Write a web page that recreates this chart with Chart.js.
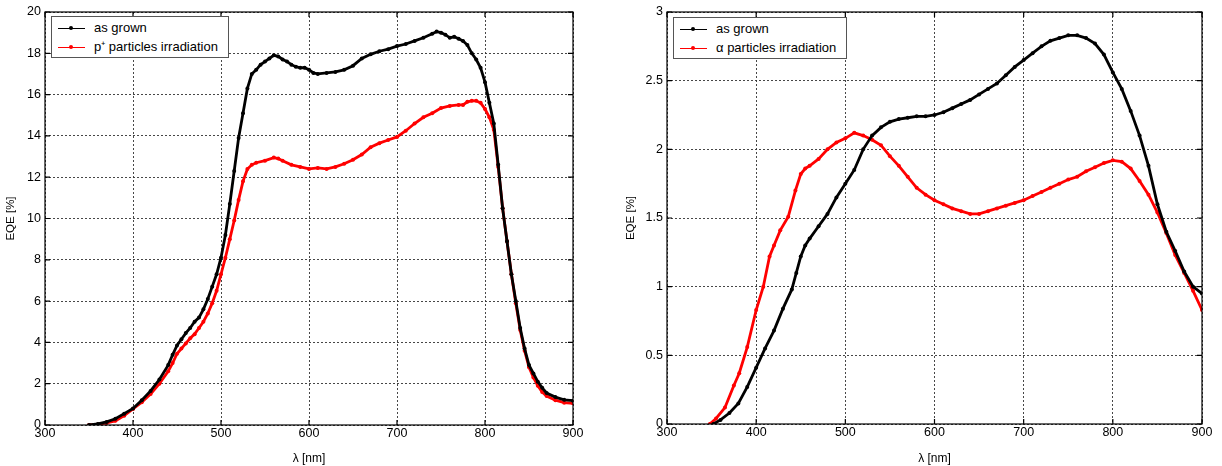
<!DOCTYPE html>
<html>
<head>
<meta charset="utf-8">
<script src="https://cdn.jsdelivr.net/npm/chart.js@4/dist/chart.umd.min.js"></script>
<style>
  html, body { margin: 0; padding: 0; background: #fff; }
  body { width: 1222px; height: 466px; position: relative; overflow: hidden; font-family: "Liberation Sans", Arial, sans-serif; }
  .wrap { position: absolute; top: 0; height: 466px; }
  .legend { position: absolute; background: #fff; border: 1px solid #555; font-size: 13px; color: #000; padding: 1px 10px 1px 6px; line-height: 19px; }
  .legend .row { white-space: nowrap; }
  .legend .smp { display: inline-block; position: relative; width: 27px; height: 0; border-top: 1.5px solid; vertical-align: middle; margin-right: 9px; }
  .legend .smp i { position: absolute; left: 11px; top: -3px; width: 4px; height: 4px; border-radius: 50%; }
</style>
</head>
<body>
<div class="wrap" style="left:0;width:600px"><canvas id="c1" width="600" height="466"></canvas></div>
<div class="wrap" style="left:620px;width:602px"><canvas id="c2" width="602" height="466"></canvas></div>
<div class="legend" id="lg1" style="left:51px;top:16px"></div>
<div class="legend" id="lg2" style="left:673px;top:17px"></div>
<script>
// ---------- DATA ----------
const seriesLabelsLeft = ['as grown', 'p\u207A particles irradiation'];
const seriesLabelsRight = ['as grown', '\u03B1 particles irradiation'];

const leftGrownWl = [350,360,370,380,390,400,410,420,430,440,445,450,455,460,465,470,475,480,485,490,495,500,505,510,515,520,525,530,535,540,545,550,555,560,565,570,575,580,585,590,595,600,605,610,620,630,640,650,660,670,680,690,700,710,720,730,740,745,750,755,760,765,770,775,780,785,790,795,800,805,810,815,820,825,830,835,840,845,850,855,860,865,870,880,890,900];
const leftGrownEqe = [0,0.05,0.15,0.3,0.55,0.8,1.2,1.65,2.2,2.9,3.4,3.85,4.15,4.45,4.7,5.0,5.2,5.6,6.1,6.7,7.3,8.1,9.2,10.7,12.3,13.9,15.1,16.3,17.0,17.2,17.45,17.6,17.75,17.9,17.85,17.7,17.6,17.45,17.35,17.3,17.3,17.2,17.05,17.0,17.05,17.1,17.2,17.4,17.75,17.95,18.1,18.2,18.35,18.45,18.6,18.75,18.95,19.05,19.0,18.9,18.75,18.8,18.7,18.6,18.4,18.0,17.7,17.3,16.6,15.6,14.6,12.6,10.5,8.9,7.3,6.0,4.7,3.7,2.9,2.5,2.1,1.8,1.55,1.35,1.22,1.18];

const leftIrrWl = [350,360,370,380,390,400,410,420,430,440,445,450,455,460,465,470,475,480,485,490,495,500,505,510,515,520,525,530,535,540,550,560,565,570,580,590,600,610,620,630,640,650,660,670,680,690,700,710,720,730,740,750,760,770,775,780,785,790,795,800,805,810,815,820,825,830,835,840,845,850,855,860,865,870,880,890,900];
const leftIrrEqe = [0,0.03,0.1,0.2,0.45,0.78,1.1,1.5,2.0,2.6,3.0,3.45,3.7,3.95,4.2,4.4,4.7,5.0,5.4,5.9,6.5,7.3,8.1,9.0,9.9,10.9,11.8,12.4,12.6,12.7,12.8,12.95,12.9,12.8,12.6,12.5,12.4,12.45,12.4,12.5,12.65,12.85,13.1,13.45,13.65,13.8,13.95,14.25,14.6,14.9,15.1,15.35,15.45,15.5,15.5,15.65,15.7,15.7,15.6,15.3,14.9,14.3,12.5,10.5,8.9,7.3,5.9,4.6,3.6,2.8,2.3,1.9,1.6,1.4,1.2,1.08,1.05];

const rightGrownWl = [352,360,370,380,390,400,410,420,430,440,445,450,455,460,470,480,490,500,510,520,530,540,550,560,570,580,590,600,610,620,630,640,650,660,670,680,690,700,710,720,730,740,750,760,770,780,790,800,810,820,830,840,850,860,870,880,890,900];
const rightGrownEqe = [0,0.03,0.08,0.15,0.27,0.41,0.55,0.68,0.84,0.98,1.1,1.22,1.3,1.35,1.44,1.53,1.65,1.75,1.85,2.0,2.1,2.16,2.2,2.22,2.23,2.24,2.24,2.25,2.27,2.3,2.33,2.36,2.4,2.44,2.48,2.54,2.6,2.65,2.7,2.75,2.79,2.81,2.83,2.83,2.81,2.77,2.69,2.56,2.44,2.28,2.1,1.88,1.6,1.4,1.26,1.11,1.0,0.95];

const rightIrrWl = [348,355,365,375,381,390,400,408,415,420,427,436,444,450,455,460,470,480,490,500,510,520,530,540,550,560,570,580,590,600,610,620,630,640,650,660,670,680,690,700,710,720,730,740,750,760,770,780,790,800,810,820,830,840,850,860,870,880,890,900];
const rightIrrEqe = [0,0.04,0.12,0.28,0.37,0.56,0.83,1.0,1.22,1.3,1.41,1.51,1.7,1.82,1.86,1.88,1.93,2.0,2.05,2.08,2.12,2.1,2.07,2.03,1.95,1.88,1.8,1.72,1.67,1.63,1.6,1.57,1.55,1.53,1.53,1.55,1.57,1.59,1.61,1.63,1.66,1.69,1.72,1.75,1.78,1.8,1.84,1.87,1.9,1.92,1.91,1.86,1.77,1.67,1.54,1.39,1.23,1.1,0.97,0.83];

const xTicks = [300,400,500,600,700,800,900];
const leftYTicks = [0,2,4,6,8,10,12,14,16,18,20];
const rightYTicks = [0,0.5,1,1.5,2,2.5,3];
const xTitle = '\u03BB [nm]';
const yTitle = 'EQE [%]';
const colors = ['#000000', '#ff0000'];

// ---------- HELPERS ----------
const FONT = '"Liberation Sans", Arial, sans-serif';
function pts(wl, v) { return wl.map((w, i) => ({ x: w, y: v[i] })); }

const framePlugin = {
  id: 'frame',
  afterDatasetsDraw(chart) {
    const a = chart.chartArea, ctx = chart.ctx;
    ctx.save();
    ctx.strokeStyle = '#000';
    ctx.lineWidth = 1.2;
    ctx.strokeRect(a.left, a.top, a.right - a.left, a.bottom - a.top);
    const xs = chart.scales.x, ys = chart.scales.y;
    ctx.beginPath();
    xs.ticks.forEach(t => {
      const px = xs.getPixelForValue(t.value);
      ctx.moveTo(px, a.bottom); ctx.lineTo(px, a.bottom - 5);
      ctx.moveTo(px, a.top); ctx.lineTo(px, a.top + 5);
    });
    ys.ticks.forEach(t => {
      const py = ys.getPixelForValue(t.value);
      ctx.moveTo(a.left, py); ctx.lineTo(a.left + 5, py);
      ctx.moveTo(a.right, py); ctx.lineTo(a.right - 5, py);
    });
    ctx.stroke();
    ctx.restore();
  }
};

function makeChart(id, datasets, yMax, yTicks, yWidth, xHeight, padRight) {
  return new Chart(document.getElementById(id), {
    type: 'line',
    data: { datasets },
    options: {
      responsive: false,
      animation: false,
      layout: { padding: { top: 12, right: padRight, left: 0, bottom: 0 } },
      plugins: { legend: { display: false }, tooltip: { enabled: false } },
      elements: { line: { tension: 0, borderWidth: 2.8 }, point: { radius: 2, borderWidth: 0 } },
      scales: {
        x: {
          type: 'linear', min: 300, max: 900,
          afterBuildTicks: s => { s.ticks = xTicks.map(v => ({ value: v })); },
          afterFit: s => { s.height = xHeight; },
          ticks: { color: '#000', font: { family: FONT, size: 12.5 }, padding: 1, maxRotation: 0 },
          grid: { color: '#333', lineWidth: 0.9, drawTicks: false },
          border: { display: false, dash: [2, 2] },
          title: { display: true, text: xTitle, color: '#000', font: { family: FONT, size: 12 }, padding: { top: 1, bottom: 0 } }
        },
        y: {
          type: 'linear', min: 0, max: yMax,
          afterBuildTicks: s => { s.ticks = yTicks.map(v => ({ value: v })); },
          afterFit: s => { s.width = yWidth; },
          ticks: { color: '#000', font: { family: FONT, size: 12.5 }, padding: 4, callback: v => String(v) },
          grid: { color: '#333', lineWidth: 0.9, drawTicks: false },
          border: { display: false, dash: [2, 2] },
          title: { display: true, text: yTitle, color: '#000', font: { family: FONT, size: 11.5 }, padding: { top: 4, bottom: 0 } }
        }
      }
    },
    plugins: [framePlugin]
  });
}

function ds(label, wl, v, color) {
  return { label, data: pts(wl, v), borderColor: color, backgroundColor: color, pointBackgroundColor: color };
}

const leftSets = [
  ds(seriesLabelsLeft[0], leftGrownWl, leftGrownEqe, colors[0]),
  ds(seriesLabelsLeft[1], leftIrrWl, leftIrrEqe, colors[1])
];
const rightSets = [
  ds(seriesLabelsRight[0], rightGrownWl, rightGrownEqe, colors[0]),
  ds(seriesLabelsRight[1], rightIrrWl, rightIrrEqe, colors[1])
];

makeChart('c1', leftSets, 20, leftYTicks, 45, 41, 27);
makeChart('c2', rightSets, 3, rightYTicks, 47, 42, 20);

function buildLegend(id, sets) {
  const el = document.getElementById(id);
  sets.forEach(s => {
    const row = document.createElement('div');
    row.className = 'row';
    const smp = document.createElement('span');
    smp.className = 'smp';
    smp.style.borderTopColor = s.borderColor;
    const dot = document.createElement('i');
    dot.style.background = s.borderColor;
    smp.appendChild(dot);
    row.appendChild(smp);
    row.appendChild(document.createTextNode(s.label));
    el.appendChild(row);
  });
}
buildLegend('lg1', leftSets);
buildLegend('lg2', rightSets);
</script>
</body>
</html>
